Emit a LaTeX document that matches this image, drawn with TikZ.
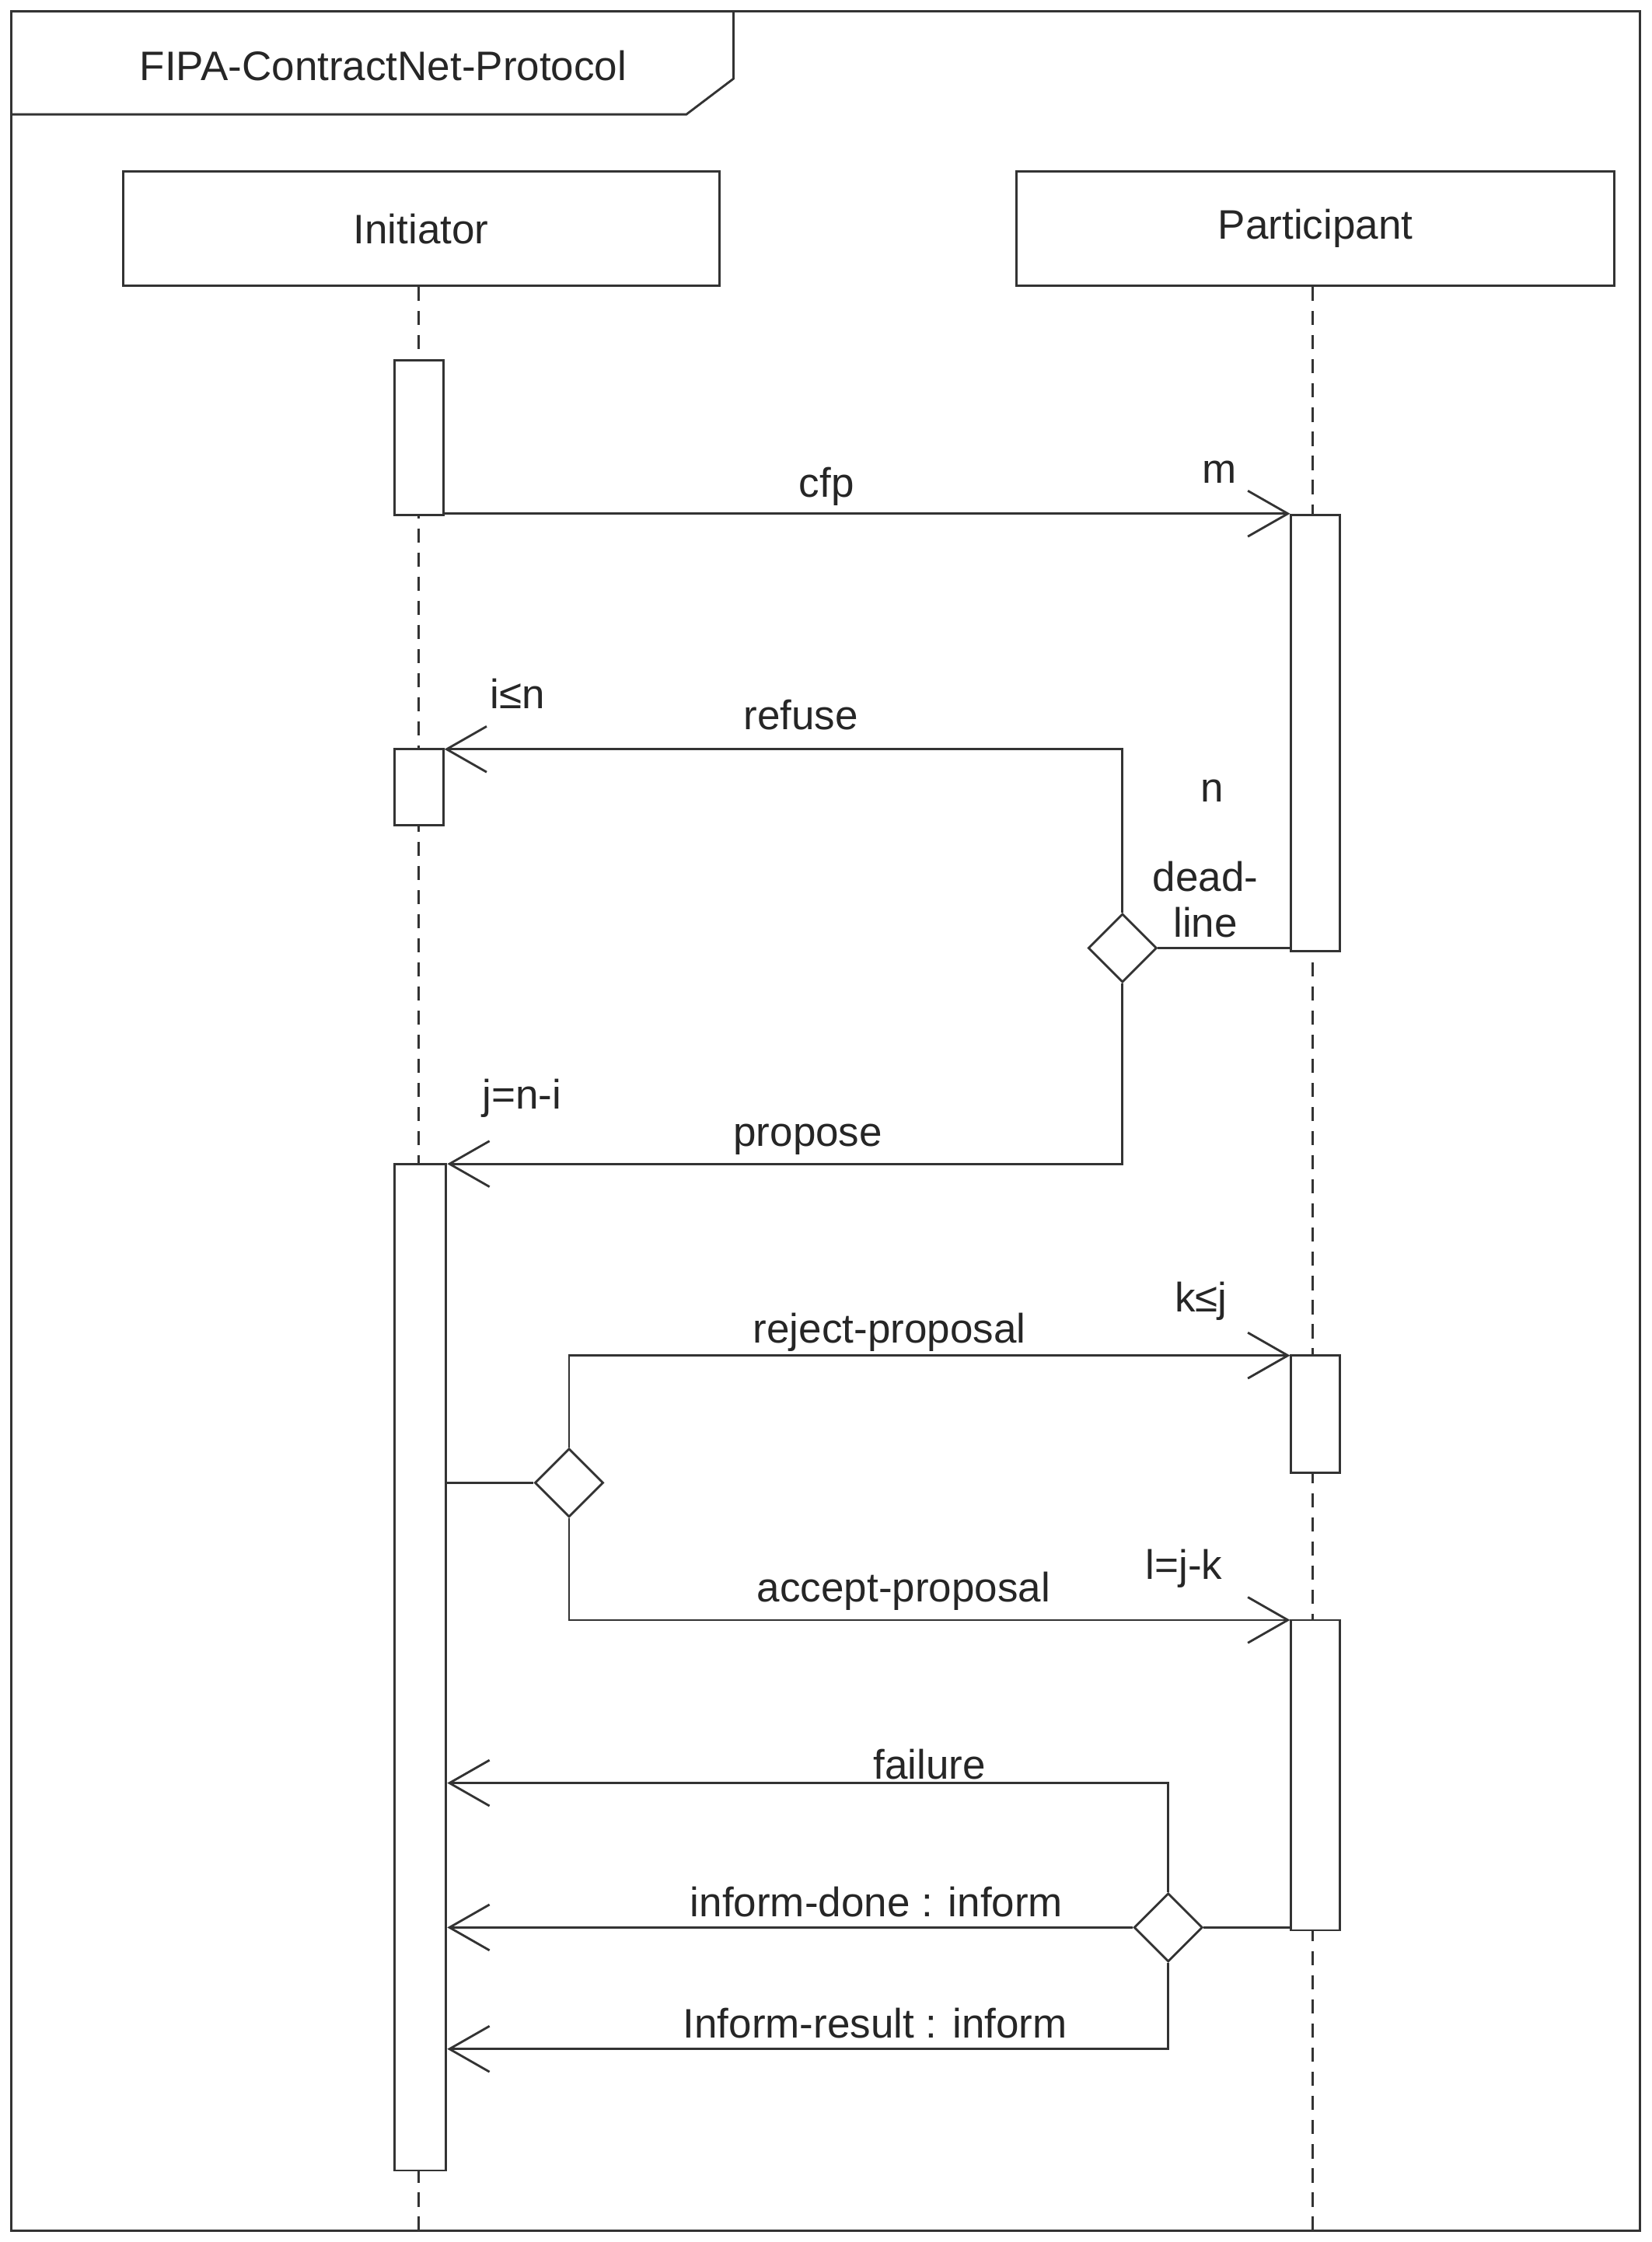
\documentclass[tikz,border=0pt]{standalone}
\usepackage{fontspec}
\setmainfont{Liberation Sans}
\usetikzlibrary{arrows.meta,shapes.geometric}
\begin{document}
\begin{tikzpicture}[x=0.05cm,y=-0.05cm,line width=2.2pt,draw=black!80,
  txt/.style={font=\fontsize{41}{46}\selectfont,text=black!85,inner sep=0pt},
  act/.style={draw,fill=white,minimum width=1.7cm,inner sep=0pt},
  dia/.style={draw,fill=white,diamond,minimum width=2.4cm,minimum height=2.4cm,inner sep=0pt},
  msg/.style={-{Straight Barb[length=1.4cm,width=1.6cm,line width=2.2pt]}},
  life/.style={dash pattern=on 14pt off 10pt}]
\useasboundingbox (0,0) rectangle (1155,1568);
\draw (8,8) rectangle (1147,1560);
\draw (8,8) -- (513,8) -- (513,55) -- (480,80) -- (8,80);
\node[txt] (title) at (268,46) {FIPA-ContractNet-Protocol};
\node[draw,minimum width=20.85cm,minimum height=4cm,txt] (ini) at (294.5,160) {Initiator};
\node[draw,minimum width=20.9cm,minimum height=4cm,txt] (par) at (920,160) {Participant};
\coordinate (iend) at (293,1560); \coordinate (pend) at (918,1560);
\draw[life] (ini.south -| iend) -- (iend);
\draw[life] (par.south -| pend) -- (pend);
% activations
\node[act,minimum height=5.4cm] (a1) at (293,306) {};
\node[act,minimum height=2.65cm] (a2) at (293,550.5) {};
\node[act,minimum height=35.2cm,minimum width=1.8cm] (a3) at (294,1166) {};
\node[act,minimum height=15.25cm] (p1) at (920,512.5) {};
\node[act,minimum height=4.1cm] (p2) at (920,989) {};
\node[act,minimum height=10.85cm] (p3) at (920,1241.5) {};
% cfp
\draw[msg] (a1.east |- p1.north west) -- (p1.north west);
\node[txt] (l1) at (578,340) {cfp};
\node[txt] (l2) at (853,330) {m};
% diamond 1
\node[dia] (d1) at (785,663) {};
\coordinate (r1) at (785,524); \coordinate (r2) at (785,814);
\draw (p1.west |- d1) -- (d1.east);
\draw[msg] (d1.north) -- (r1) -- (a2.east |- r1);
\draw[msg] (d1.south) -- (r2) -- (a3.east |- r2);
\node[txt] (l3) at (560,500) {refuse};
\node[txt] (l4) at (362,485) {i≤n};
\node[txt] (l5) at (848,553) {n};
\node[txt,align=center] (l6) at (843,629) {dead-\\line};
\node[txt] (l7) at (565,797) {propose};
\node[txt] (l8) at (365,768) {j=n-i};
% diamond 2
\node[dia] (d2) at (398,1037) {};
\coordinate (r3) at (398,948); \coordinate (r4) at (398,1133);
\draw (a3.east |- d2) -- (d2.west);
\draw[msg] (d2.north) -- (r3) -- (p2.west |- r3);
\draw[msg] (d2.south) -- (r4) -- (p3.west |- r4);
\node[txt] (l9) at (622,932) {reject-proposal};
\node[txt] (l10) at (840,910) {k≤j};
\node[txt] (l11) at (632,1113) {accept-proposal};
\node[txt] (l12) at (828,1097) {l=j-k};
% diamond 3
\node[dia] (d3) at (817,1348) {};
\coordinate (r5) at (817,1247); \coordinate (r6) at (817,1433);
\draw (p3.west |- d3) -- (d3.east);
\draw[msg] (d3.north) -- (r5) -- (a3.east |- r5);
\draw[msg] (d3.west) -- (a3.east |- d3);
\draw[msg] (d3.south) -- (r6) -- (a3.east |- r6);
\node[txt] (l13) at (650,1234) {failure};
\node[txt] (l14) at (613,1330) {inform-done : inform};
\node[txt] (l15) at (612,1415) {Inform-result : inform};
\end{tikzpicture}
\end{document}
